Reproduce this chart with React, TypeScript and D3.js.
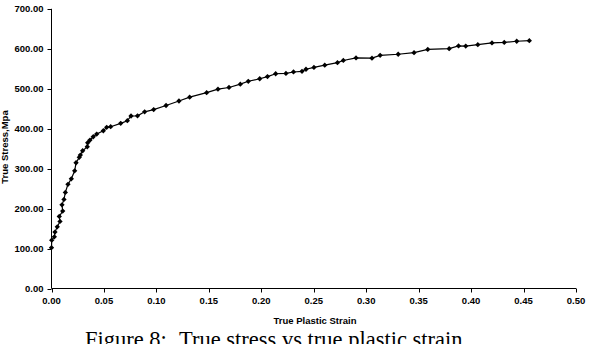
import React from "react";
import * as d3 from "d3";

// True plastic strain (x) and true stress in MPa (y), in test order
const strain = [
  0.0, 0.0002, 0.0027, 0.0033, 0.0055, 0.0081, 0.0074, 0.0107, 0.01, 0.0119,
  0.0132, 0.0157, 0.0189, 0.0221, 0.0234, 0.0265, 0.0275, 0.0297, 0.0341, 0.0345,
  0.0367, 0.0398, 0.0431, 0.0494, 0.0526, 0.0564, 0.066, 0.0723, 0.0758, 0.082,
  0.0888, 0.0974, 0.1092, 0.1215, 0.1317, 0.1479, 0.1587, 0.1692, 0.18, 0.1876,
  0.1985, 0.2059, 0.2137, 0.2235, 0.2307, 0.2388, 0.2426, 0.2502, 0.2605, 0.2726,
  0.2782, 0.2903, 0.3055, 0.3133, 0.3305, 0.3456, 0.3587, 0.3791, 0.388, 0.3949,
  0.4064, 0.4199, 0.4316, 0.4435, 0.4555,
];
const stress = [
  102.2, 121.0, 129.3, 141.1, 154.3, 167.9, 180.4, 193.7, 209.5, 223.0,
  240.5, 260.6, 274.6, 294.6, 314.7, 328.2, 334.0, 344.7, 354.8, 364.8,
  371.5, 379.8, 386.6, 394.8, 403.4, 404.9, 413.4, 419.9, 431.7, 432.2,
  442.2, 447.7, 458.0, 469.3, 478.8, 490.1, 498.8, 503.1, 511.4, 518.6,
  524.9, 530.4, 537.4, 538.2, 541.9, 543.6, 548.7, 553.2, 558.9, 565.2,
  570.7, 577.0, 576.5, 583.5, 586.3, 590.3, 598.3, 600.3, 607.1, 606.6,
  610.3, 614.6, 615.8, 618.8, 620.3,
];

const xTicks = [0, 0.05, 0.1, 0.15, 0.2, 0.25, 0.3, 0.35, 0.4, 0.45, 0.5];
const yTicks = [0, 100, 200, 300, 400, 500, 600, 700];

const xTitle = "True Plastic Strain";
const yTitle = "True Stress,Mpa";
const captionLead = "Figure 8:";
const captionText = "True stress vs true plastic strain.";

const W = 590;
const H = 344;

export default function App() {
  const x = d3.scaleLinear().domain([0, 0.5]).range([51.5, 576]);
  const y = d3.scaleLinear().domain([0, 700]).range([288.5, 8.8]);
  const fmt = d3.format(".2f");

  const pts = strain.map((s, i) => [s, stress[i]] as [number, number]);
  const line = d3
    .line<[number, number]>()
    .x((d) => x(d[0]))
    .y((d) => y(d[1]));
  // square rotated 45° gives an even diamond marker
  const marker = d3.symbol().type(d3.symbolSquare).size(14)();

  const axisFont = {
    fontFamily: "Arial, 'Liberation Sans', sans-serif",
    fontWeight: 700,
    fontSize: 9.5,
  } as const;
  const serif = "'Liberation Serif', 'DejaVu Serif', serif";

  return (
    <svg
      width={W}
      height={H}
      style={{ position: "absolute", left: 0, top: 0, background: "#fff" }}
    >
      {/* y axis */}
      <line x1={51.5} x2={51.5} y1={y(700)} y2={y(0)} stroke="#000" strokeWidth={1} />
      {yTicks.map((t) => (
        <g key={"y" + t}>
          <line x1={47.5} x2={51.5} y1={Math.round(y(t)) + 0.5} y2={Math.round(y(t)) + 0.5} stroke="#000" />
          <text x={43.5} y={y(t) + 3.4} textAnchor="end" {...axisFont} fill="#000">
            {fmt(t)}
          </text>
        </g>
      ))}
      {/* x axis */}
      <line x1={51.5} x2={576} y1={288.5} y2={288.5} stroke="#000" strokeWidth={1} />
      {xTicks.map((t) => (
        <g key={"x" + t}>
          <line x1={Math.round(x(t)) + 0.5} x2={Math.round(x(t)) + 0.5} y1={288.5} y2={292.5} stroke="#000" />
          <text x={x(t)} y={304} textAnchor="middle" {...axisFont} fill="#000">
            {fmt(t)}
          </text>
        </g>
      ))}
      <text x={315} y={324} textAnchor="middle" {...axisFont} fill="#000">
        {xTitle}
      </text>
      <text
        transform="translate(7.5,147) rotate(-90)"
        textAnchor="middle"
        {...axisFont}
        fill="#000"
      >
        {yTitle}
      </text>

      {/* series */}
      <path d={line(pts) ?? ""} fill="none" stroke="#000" strokeWidth={1.2} />
      {pts.map((p, i) => (
        <path
          key={i}
          d={marker ?? ""}
          transform={`translate(${x(p[0])},${y(p[1])}) rotate(45)`}
          fill="#000"
        />
      ))}

      {/* caption */}
      <text x={85} y={346.5} fontFamily={serif} fontSize={22.5} fill="#000">
        {captionLead}
      </text>
      <text x={179} y={346.5} fontFamily={serif} fontSize={22.5} fill="#000">
        {captionText}
      </text>
    </svg>
  );
}
